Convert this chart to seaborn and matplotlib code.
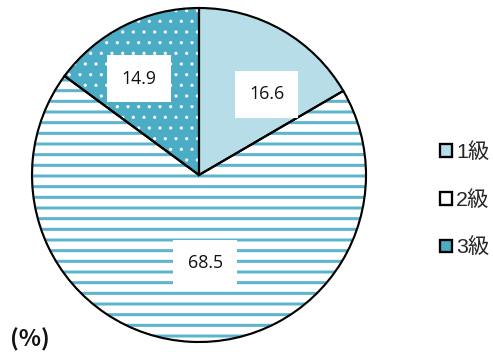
import numpy as np
import matplotlib
matplotlib.use("Agg")
import matplotlib.pyplot as plt
from matplotlib.patches import Patch
import seaborn as sns

# Data
categories = ["1級", "2級", "3級"]
shares = [16.6, 68.5, 14.9]
value_labels = ["16.6", "68.5", "14.9"]

# Styling
face_colors = ["#b7dee8", "#ffffff", "#4bacc6"]
hatch_colors = ["#b7dee8", "#5db5cc", "#ffffff"]
hatches = ["", "--", ".."]
hatch_widths = [1.0, 1.7, 0.6]
# label placement as (angle in degrees, radius fraction)
label_polar = [(50, 0.63), (-86, 0.53), (122, 0.68)]

sns.set_theme(style="white")
plt.rcParams["font.family"] = ["Noto Sans CJK JP", "DejaVu Sans"]
plt.rcParams["hatch.linewidth"] = 1.7

DPI = 128
fig = plt.figure(figsize=(493 / DPI, 352 / DPI), dpi=DPI)
ax = fig.add_axes([32 / 493, 10 / 352, 334 / 493, 334 / 352])

# filled / hatched wedges (hatch colour follows edge colour)
wedges, _ = ax.pie(shares, startangle=90, counterclock=False,
                   colors=face_colors, radius=1,
                   wedgeprops=dict(linewidth=0))
for w, hc, h, hw in zip(wedges, hatch_colors, hatches, hatch_widths):
    w.set_edgecolor(hc)
    w.set_hatch(h)
    w.set_linewidth(0)
    if hasattr(w, "set_hatch_linewidth"):
        w.set_hatch_linewidth(hw)

# black outlines drawn on top
outlines, _ = ax.pie(shares, startangle=90, counterclock=False, radius=1,
                     wedgeprops=dict(fill=False, edgecolor="black",
                                     linewidth=1.2))
ax.set_xlim(-1, 1)
ax.set_ylim(-1, 1)
ax.set_aspect("equal")
ax.axis("off")

for txt, (ang, r) in zip(value_labels, label_polar):
    a = np.deg2rad(ang)
    ax.text(r * np.cos(a), r * np.sin(a), txt, ha="center", va="center",
            fontsize=10, family=["Open Sans", "DejaVu Sans"], color="#111111",
            bbox=dict(boxstyle="square,pad=0.8", facecolor="white",
                      edgecolor="none"))

handles = [Patch(facecolor=fc, edgecolor="black", linewidth=1.3, label=c)
           for fc, c in zip(face_colors, categories)]
fig.legend(handles=handles, loc="center left",
           bbox_to_anchor=(421 / 493, 1 - 200 / 352),
           frameon=False, handlelength=0.55, handleheight=0.55,
           handletextpad=0.2, labelspacing=1.3,
           prop={"family": ["Liberation Sans", "Noto Sans CJK JP"], "size": 12})

fig.text(10 / 493, 1 - 340 / 352, "(%)", fontsize=13, fontweight="bold",
         ha="left", va="center", color="#111111")

fig.savefig("out.png", dpi=DPI)
